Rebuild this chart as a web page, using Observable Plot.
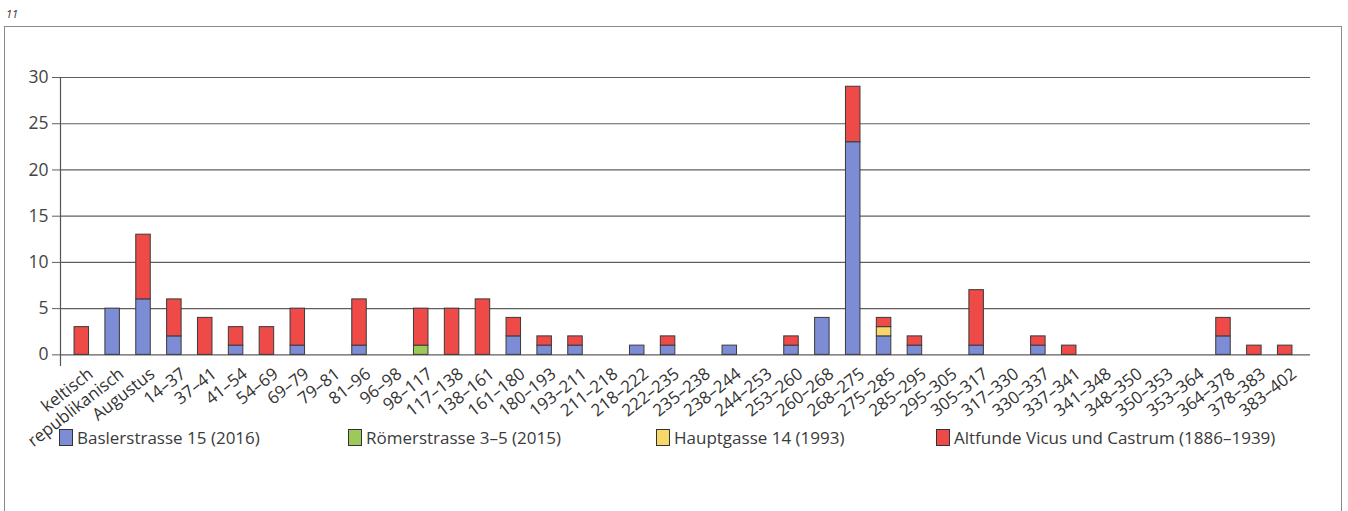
<!DOCTYPE html>
<html>
<head>
<meta charset="utf-8">
<script src="https://cdn.jsdelivr.net/npm/d3@7"></script>
<script src="https://cdn.jsdelivr.net/npm/@observablehq/plot@0.6"></script>
<style>
  html, body { margin: 0; padding: 0; background: #fff; }
  #wrap { position: relative; width: 1348px; height: 511px; overflow: hidden; background: #fff; font-family: "Open Sans", "Noto Sans", sans-serif; color: #333; }
  #box { position: absolute; left: 4px; top: 26px; width: 1338px; height: 520px; border: 1.5px solid #8a8a8a; border-bottom: none; box-sizing: border-box; }
  #num { position: absolute; left: 6px; top: 6px; font-size: 11px; font-style: italic; color: #333; }
  #chart { position: absolute; left: 0; top: 0; }
  #chart svg { overflow: visible; }
  #legend { position: absolute; top: 426px; left: 0; width: 1348px; height: 24px; font-size: 17px; color: #3a3a3a; }
  .item { position: absolute; display: flex; align-items: center; white-space: nowrap; }
  .sw { display: inline-block; width: 14px; height: 17px; border: 1px solid #333; margin-right: 4px; box-sizing: border-box; }
</style>
</head>
<body>
<div id="wrap">
  <div id="box"></div>
  <div id="num">11</div>
  <div id="chart"></div>
  <div id="legend"></div>
</div>
<script>
const categories = ["keltisch","republikanisch","Augustus","14–37","37–41","41–54","54–69","69–79","79–81","81–96","96–98","98–117","117–138","138–161","161–180","180–193","193–211","211–218","218–222","222–235","235–238","238–244","244–253","253–260","260–268","268–275","275–285","285–295","295–305","305–317","317–330","330–337","337–341","341–348","348–350","350–353","353–364","364–378","378–383","383–402"];
const basler     = [0,5,6,2,0,1,0,1,0,1,0,0,0,0,2,1,1,0,1,1,0,1,0,1,4,23,2,1,0,1,0,1,0,0,0,0,0,2,0,0];
const roemer     = [0,0,0,0,0,0,0,0,0,0,0,1,0,0,0,0,0,0,0,0,0,0,0,0,0,0,0,0,0,0,0,0,0,0,0,0,0,0,0,0];
const hauptgasse = [0,0,0,0,0,0,0,0,0,0,0,0,0,0,0,0,0,0,0,0,0,0,0,0,0,0,1,0,0,0,0,0,0,0,0,0,0,0,0,0];
const altfunde   = [3,0,7,4,4,2,3,4,0,5,0,4,5,6,2,1,1,0,0,1,0,0,0,1,0,6,1,1,0,6,0,1,1,0,0,0,0,2,1,1];
const seriesNames = ["Baslerstrasse 15 (2016)","Römerstrasse 3–5 (2015)","Hauptgasse 14 (1993)","Altfunde Vicus und Castrum (1886–1939)"];
const seriesColors = ["#7d8dd5","#9dc85a","#f7d76a","#ee4a47"];
const yTicks = [0,5,10,15,20,25,30];

const seriesValues = [basler, roemer, hauptgasse, altfunde];
const data = [];
seriesNames.forEach((s, si) => {
  categories.forEach((c, ci) => {
    const v = seriesValues[si][ci];
    if (v > 0) data.push({category: c, series: s, value: v});
  });
});

const chart = Plot.plot({
  width: 1348,
  height: 511,
  marginLeft: 60,
  marginRight: 38,
  marginTop: 77,
  marginBottom: 146,
  style: {background: "transparent", fontFamily: "'Open Sans', 'Noto Sans', sans-serif", color: "#333", overflow: "visible"},
  x: {domain: categories, paddingInner: 0.53, paddingOuter: 0.52, insetLeft: -2, insetRight: 2, label: null, axis: null},
  y: {domain: [-1.15, 30], label: null},
  color: {domain: seriesNames, range: seriesColors},
  marks: [
    Plot.ruleY(yTicks, {stroke: "#5f5f5f", strokeWidth: 1.2, strokeOpacity: 1}),
    Plot.frame({anchor: "left", stroke: "#555", strokeWidth: 1.2}),
    Plot.axisY({ticks: yTicks, tickSize: 8, tickPadding: 4, fontSize: 17.5, stroke: "#5f5f5f", fill: "#444", strokeOpacity: 1}),
    Plot.text(categories, {
      x: d => d, frameAnchor: "bottom", text: d => d,
      rotate: -38, textAnchor: "end", lineAnchor: "top",
      dx: 5, dy: 1, fontSize: 17, fill: "#333"
    }),
    Plot.barY(data, Plot.stackY({
      x: "category", y: "value", fill: "series", z: "series",
      order: seriesNames,
      stroke: "#3a3a3a", strokeWidth: 1
    }))
  ]
});
document.getElementById("chart").appendChild(chart);

const legendX = [59, 348, 656, 936];
const legend = document.getElementById("legend");
seriesNames.forEach((s, i) => {
  const it = document.createElement("div");
  it.className = "item";
  it.style.left = legendX[i] + "px";
  it.innerHTML = `<span class="sw" style="background:${seriesColors[i]}"></span><span>${s}</span>`;
  legend.appendChild(it);
});
</script>
</body>
</html>
